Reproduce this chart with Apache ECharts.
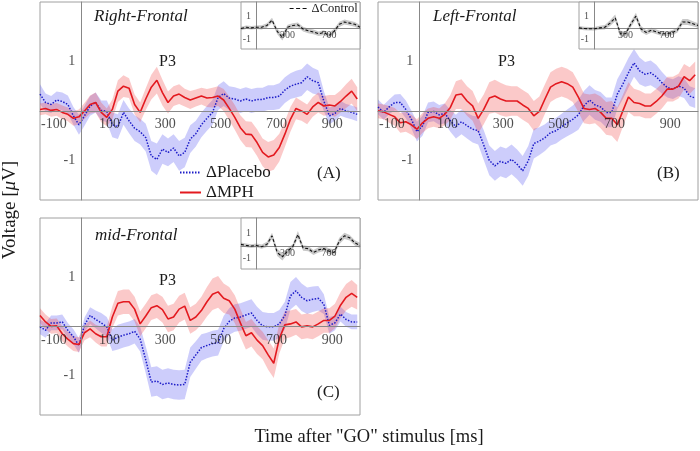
<!DOCTYPE html>
<html>
<head>
<meta charset="utf-8">
<script src="https://cdn.jsdelivr.net/npm/echarts@6/dist/echarts.min.js"></script>
<style>html,body{margin:0;padding:0;background:#fff}#c{width:700px;height:451px}</style>
</head>
<body>
<div id="c"></div>
<script>
// ---- time grids (ms) ----
const times = [-150,-130,-110,-90,-70,-50,-30,-10,10,30,50,70,90,110,130,150,170,190,210,230,250,270,290,310,330,350,370,390,410,430,450,470,490,510,530,550,570,590,610,630,650,670,690,710,730,750,770,790,810,830,850,870,890,910,930,950,970,990];
const insetTimes = [-150,-100,-50,0,50,100,150,200,250,300,350,400,450,500,550,600,650,700,750,800,850,900,950,1000];
const xTickLabels = [-100,100,300,500,700,900];
const insetXTickLabels = [300,700];
const yTickLabels = [-1,1];

// ---- Panel A: Right-Frontal ----
const mphA = [0.03,0.05,0.01,0.03,-0.03,-0.07,-0.15,-0.12,0.0,0.13,0.17,-0.03,-0.13,0.03,0.4,0.5,0.46,0.13,-0.03,0.24,0.48,0.62,0.37,0.17,0.3,0.34,0.27,0.22,0.26,0.3,0.26,0.27,0.3,0.22,0.05,-0.13,-0.34,-0.47,-0.48,-0.64,-0.84,-0.93,-0.89,-0.74,-0.47,-0.17,0.05,0.0,-0.07,0.08,0.17,0.1,0.12,0.1,0.19,0.3,0.4,0.24];
const plaA = [0.34,0.17,0.13,0.22,0.19,0.13,-0.1,-0.28,-0.1,0.1,0.17,0.01,-0.01,-0.28,-0.32,-0.03,-0.2,-0.35,-0.42,-0.54,-0.91,-0.98,-0.77,-0.84,-0.75,-0.91,-0.84,-0.57,-0.46,-0.28,-0.15,-0.03,0.27,0.35,0.26,0.24,0.2,0.24,0.2,0.23,0.23,0.27,0.27,0.3,0.42,0.5,0.54,0.57,0.69,0.61,0.57,0.2,-0.1,-0.05,0.05,0.0,-0.03,-0.07];
const seMphA = [0.12,0.12,0.13,0.13,0.14,0.14,0.15,0.15,0.16,0.18,0.2,0.2,0.18,0.2,0.22,0.22,0.2,0.2,0.2,0.22,0.25,0.27,0.26,0.22,0.2,0.2,0.18,0.18,0.17,0.17,0.18,0.2,0.2,0.22,0.24,0.25,0.25,0.26,0.26,0.27,0.28,0.3,0.3,0.28,0.26,0.25,0.22,0.2,0.2,0.2,0.2,0.2,0.2,0.22,0.22,0.24,0.25,0.24];
const sePlaA = [0.2,0.18,0.17,0.17,0.18,0.18,0.18,0.2,0.2,0.2,0.2,0.2,0.22,0.25,0.25,0.25,0.25,0.26,0.26,0.28,0.3,0.32,0.3,0.28,0.28,0.3,0.3,0.28,0.26,0.25,0.25,0.25,0.25,0.25,0.24,0.24,0.24,0.24,0.24,0.24,0.24,0.25,0.25,0.26,0.26,0.26,0.27,0.27,0.27,0.26,0.25,0.2,0.17,0.15,0.15,0.14,0.14,0.14];
const ctlA = [-0.05,0.05,0.0,0.05,0.05,0.2,0.65,-0.3,-0.8,0.05,0.2,0.25,-0.1,-0.25,-0.35,-0.5,-0.4,-0.65,-0.3,0.3,0.5,0.4,0.3,0.05];
const seCtlA = [0.15,0.15,0.15,0.15,0.18,0.2,0.22,0.25,0.28,0.22,0.2,0.2,0.2,0.2,0.2,0.2,0.2,0.22,0.22,0.22,0.22,0.2,0.2,0.2];

// ---- Panel B: Left-Frontal ----
const mphB = [0.0,-0.02,-0.07,-0.12,-0.24,-0.22,-0.28,-0.37,-0.24,-0.15,-0.12,-0.15,-0.07,0.07,0.32,0.34,0.2,0.1,-0.15,0.03,0.26,0.3,0.24,0.2,0.2,0.2,0.12,0.05,-0.1,-0.01,0.24,0.48,0.55,0.59,0.55,0.48,0.28,0.05,0.03,0.05,-0.03,-0.15,-0.15,-0.28,0.0,0.28,0.17,0.15,0.1,0.1,0.19,0.3,0.44,0.44,0.5,0.69,0.61,0.73];
const plaB = [0.08,-0.03,0.08,0.17,0.17,0.03,-0.17,-0.42,-0.3,-0.03,-0.01,-0.08,-0.05,-0.2,-0.32,-0.22,-0.3,-0.37,-0.4,-0.69,-1.0,-1.11,-1.02,-1.06,-0.98,-1.08,-1.21,-1.01,-0.66,-0.61,-0.54,-0.44,-0.4,-0.32,-0.24,-0.17,-0.08,0.1,0.22,0.12,0.08,-0.03,-0.03,0.34,0.54,0.77,0.97,0.81,0.74,0.77,0.69,0.57,0.47,0.44,0.5,0.46,0.3,0.26];
const seMphB = [0.15,0.15,0.17,0.18,0.2,0.2,0.2,0.2,0.2,0.2,0.2,0.2,0.22,0.25,0.28,0.3,0.3,0.3,0.3,0.3,0.32,0.33,0.33,0.32,0.3,0.3,0.3,0.3,0.3,0.3,0.3,0.3,0.3,0.3,0.3,0.3,0.3,0.3,0.3,0.3,0.32,0.33,0.35,0.35,0.32,0.3,0.28,0.26,0.25,0.25,0.25,0.25,0.25,0.25,0.25,0.26,0.27,0.27];
const sePlaB = [0.15,0.15,0.15,0.16,0.17,0.18,0.18,0.2,0.2,0.2,0.2,0.2,0.2,0.22,0.24,0.25,0.26,0.27,0.28,0.3,0.3,0.3,0.3,0.3,0.3,0.3,0.3,0.3,0.3,0.28,0.27,0.26,0.26,0.26,0.27,0.28,0.3,0.3,0.3,0.3,0.3,0.3,0.3,0.3,0.3,0.3,0.28,0.27,0.25,0.25,0.24,0.22,0.2,0.2,0.2,0.2,0.2,0.2];
const ctlB = [0.0,-0.05,-0.08,-0.08,0.0,0.05,0.4,0.85,-0.5,-0.5,0.3,1.0,-0.1,-0.4,-0.2,-0.35,-0.5,-0.5,-0.4,-0.2,0.5,0.5,0.35,0.2];
const seCtlB = [0.15,0.15,0.15,0.15,0.17,0.2,0.25,0.28,0.25,0.22,0.25,0.28,0.25,0.2,0.2,0.2,0.2,0.2,0.2,0.22,0.25,0.25,0.22,0.2];

// ---- Panel C: mid-Frontal ----
const mphC = [0.22,0.09,0.0,0.01,-0.15,-0.26,-0.35,-0.37,-0.13,-0.05,-0.15,-0.21,-0.21,0.19,0.47,0.5,0.5,0.35,0.05,0.21,0.38,0.42,0.34,0.15,0.19,0.35,0.41,0.12,0.19,0.32,0.5,0.65,0.7,0.57,0.52,0.35,0.07,-0.19,-0.13,-0.28,-0.39,-0.58,-0.75,-0.25,0.03,0.05,0.09,-0.01,0.01,-0.01,0.05,0.12,0.12,0.21,0.43,0.59,0.67,0.59];
const plaC = [-0.01,-0.08,0.07,0.07,0.09,-0.08,-0.21,-0.39,0.03,0.22,0.14,0.07,-0.01,-0.28,-0.22,-0.18,-0.15,-0.1,-0.26,-0.68,-1.13,-1.11,-1.18,-1.15,-1.18,-1.19,-1.18,-0.73,-0.58,-0.43,-0.39,-0.35,-0.33,-0.05,0.1,0.17,0.19,0.23,0.27,0.12,0.01,-0.01,-0.01,0.05,0.22,0.62,0.72,0.59,0.52,0.55,0.57,0.45,0.02,0.07,0.25,0.14,0.09,0.09];
const seMphC = [0.15,0.15,0.15,0.15,0.15,0.15,0.15,0.15,0.15,0.17,0.18,0.2,0.2,0.22,0.25,0.25,0.25,0.25,0.25,0.25,0.25,0.25,0.26,0.27,0.27,0.27,0.27,0.27,0.27,0.28,0.3,0.32,0.32,0.3,0.28,0.28,0.28,0.28,0.28,0.28,0.28,0.3,0.3,0.3,0.28,0.27,0.26,0.25,0.25,0.25,0.25,0.25,0.25,0.25,0.26,0.27,0.27,0.25];
const sePlaC = [0.15,0.15,0.15,0.15,0.15,0.15,0.15,0.15,0.15,0.17,0.18,0.2,0.2,0.22,0.25,0.25,0.25,0.25,0.25,0.27,0.3,0.3,0.3,0.3,0.3,0.3,0.3,0.3,0.28,0.27,0.26,0.26,0.26,0.26,0.27,0.28,0.28,0.28,0.28,0.28,0.28,0.28,0.28,0.28,0.28,0.28,0.28,0.28,0.27,0.26,0.25,0.2,0.17,0.15,0.15,0.15,0.15,0.15];
const ctlC = [0.13,0.05,0.0,0.05,-0.05,0.13,0.8,-0.5,-0.85,-0.4,-0.05,0.9,-0.15,-0.2,-0.5,-0.3,-0.2,-0.4,-0.5,0.4,0.8,0.65,0.25,0.05];
const seCtlC = [0.15,0.15,0.15,0.15,0.17,0.2,0.25,0.28,0.28,0.22,0.22,0.28,0.22,0.2,0.2,0.2,0.2,0.22,0.22,0.25,0.25,0.22,0.2,0.2];

const SERIF = 'Liberation Serif';
const RED = '#e3191f', BLUE = '#1c1cc8';
const RED_BAND = 'rgba(240,60,60,0.28)', BLUE_BAND = 'rgba(60,60,240,0.26)', GREY_BAND = 'rgba(120,120,120,0.40)';

const panels = [
  {mph: mphA, pla: plaA, seM: seMphA, seP: sePlaA, ctl: ctlA, seC: seCtlA},
  {mph: mphB, pla: plaB, seM: seMphB, seP: sePlaB, ctl: ctlB, seC: seCtlB},
  {mph: mphC, pla: plaC, seM: seMphC, seP: sePlaC, ctl: ctlC, seC: seCtlC}
];

const mainGrids = [
  {left: 40, top: 2, width: 320, height: 198},
  {left: 378, top: 2, width: 320, height: 198},
  {left: 40, top: 218, width: 320, height: 197}
];
const insetGrids = [
  {left: 241, top: 2, width: 119, height: 47},
  {left: 579, top: 2, width: 119, height: 47},
  {left: 241, top: 218, width: 119, height: 51}
];

const grid = [], xAxis = [], yAxis = [], series = [];

mainGrids.forEach((g) => {
  grid.push(Object.assign({show: true, borderColor: '#a0a0a0', borderWidth: 1, backgroundColor: 'transparent', z: 0}, g));
});
insetGrids.forEach((g) => {
  grid.push(Object.assign({show: true, borderColor: '#a0a0a0', borderWidth: 1, backgroundColor: '#ffffff', z: 5}, g));
});

function addAxes(gi, inset) {
  xAxis.push({
    gridIndex: gi, type: 'value', min: -150, max: 1000, interval: 50, z: inset ? 7 : 1,
    axisLine: {onZero: true, lineStyle: {color: '#888', width: 1}},
    axisTick: {show: false}, splitLine: {show: false}, axisLabel: {show: false}
  });
  yAxis.push({
    gridIndex: gi, type: 'value', min: -1.8, max: 2.2, interval: 0.2, z: inset ? 7 : 1,
    axisLine: {onZero: true, lineStyle: {color: '#888', width: 1}},
    axisTick: {show: false}, splitLine: {show: false}, axisLabel: {show: false}
  });
  // zero reference lines and tick labels drawn through the axes' own scales
  series.push({
    type: 'line', xAxisIndex: gi, yAxisIndex: gi, data: [], silent: true, z: inset ? 7 : 1,
    markLine: {
      silent: true, symbol: 'none', animation: false, label: {show: false},
      lineStyle: {color: '#888', width: 1, type: 'solid'},
      data: [{xAxis: 0}, {yAxis: 0}]
    }
  });
  const fs = inset ? 10 : 14;
  series.push({
    type: 'scatter', xAxisIndex: gi, yAxisIndex: gi, silent: true, z: inset ? 9 : 4,
    symbolSize: 1, itemStyle: {color: 'rgba(0,0,0,0)'},
    data: (inset ? insetXTickLabels : xTickLabels).map(v => [v, 0]),
    label: {show: true, position: 'bottom', distance: inset ? 2 : 6, formatter: p => String(p.value[0]),
      fontFamily: SERIF, fontSize: fs, color: '#222'}
  });
  series.push({
    type: 'scatter', xAxisIndex: gi, yAxisIndex: gi, silent: true, z: inset ? 9 : 4,
    symbolSize: 1, itemStyle: {color: 'rgba(0,0,0,0)'},
    data: yTickLabels.map(v => [0, v]),
    label: {show: true, position: 'left', distance: inset ? 5 : 6, formatter: p => String(p.value[1]),
      fontFamily: SERIF, fontSize: fs, color: '#222'}
  });
}

function bandSeries(gi, tArr, vals, se, color, z) {
  const rows = tArr.map((t, i) => [t, vals[i] - se[i], vals[i] + se[i]]);
  series.push({
    type: 'custom', xAxisIndex: gi, yAxisIndex: gi, z: z, silent: true,
    data: rows, encode: {x: 0, y: [1, 2]},
    renderItem: (params, api) => {
      if (params.dataIndex !== 0) return null;
      const pts = [];
      for (let i = 0; i < rows.length; i++) pts.push(api.coord([rows[i][0], rows[i][2]]));
      for (let i = rows.length - 1; i >= 0; i--) pts.push(api.coord([rows[i][0], rows[i][1]]));
      return {type: 'polygon', shape: {points: pts}, style: {fill: color}};
    }
  });
}

function lineSeries(gi, tArr, vals, name, style, z) {
  series.push({
    type: 'line', name: name, xAxisIndex: gi, yAxisIndex: gi,
    data: tArr.map((t, i) => [t, vals[i]]),
    symbol: 'none', silent: true, z: z, lineStyle: style,
    itemStyle: {color: style.color}, emphasis: {disabled: true}
  });
}

panels.forEach((p, k) => addAxes(k, false));
panels.forEach((p, k) => addAxes(3 + k, true));

panels.forEach((p, k) => {
  bandSeries(k, times, p.pla, p.seP, BLUE_BAND, 2);
  bandSeries(k, times, p.mph, p.seM, RED_BAND, 2);
  lineSeries(k, times, p.pla, 'ΔPlacebo', {color: BLUE, width: 1.5, type: [1.5, 1.5]}, 3);
  lineSeries(k, times, p.mph, 'ΔMPH', {color: RED, width: 1.6, type: 'solid'}, 3);
  const gi = 3 + k;
  bandSeries(gi, insetTimes, p.ctl, p.seC, GREY_BAND, 8);
  lineSeries(gi, insetTimes, p.ctl, 'ΔControl', {color: '#111', width: 1.1, type: [3, 2]}, 9);
});

function txt(x, y, text, size, extra) {
  return {
    type: 'text', x: x, y: y, z: 20,
    style: Object.assign({text: text, fontFamily: SERIF, fontSize: size, fill: '#1a1a1a', textVerticalAlign: 'middle'}, extra || {})
  };
}

const graphic = [
  txt(94, 17, 'Right-Frontal', 17, {fontStyle: 'italic'}),
  txt(433, 17, 'Left-Frontal', 17, {fontStyle: 'italic'}),
  txt(95, 236, 'mid-Frontal', 17, {fontStyle: 'italic'}),
  txt(159, 62, 'P3', 16),
  txt(498, 62, 'P3', 16),
  txt(159, 281, 'P3', 16),
  txt(317, 174, '(A)', 17),
  txt(657, 174, '(B)', 17),
  txt(317, 393, '(C)', 17),
  txt(369, 437, 'Time after "GO" stimulus [ms]', 18.5, {textAlign: 'center'}),
  {
    type: 'text', x: 10, y: 210, rotation: Math.PI / 2, z: 20,
    style: {
      text: 'Voltage [{i|μ}V]', fontFamily: SERIF, fontSize: 19, fill: '#1a1a1a',
      textAlign: 'center', textVerticalAlign: 'middle',
      rich: {i: {fontStyle: 'italic', fontFamily: SERIF, fontSize: 19, fill: '#1a1a1a'}}
    }
  }
];

const option = {
  animation: false,
  backgroundColor: '#ffffff',
  grid: grid, xAxis: xAxis, yAxis: yAxis, series: series,
  legend: [
    {
      data: ['ΔPlacebo', 'ΔMPH'], orient: 'vertical', left: 179, top: 164, padding: 0,
      itemWidth: 21, itemHeight: 14, itemGap: 3, selectedMode: false, z: 20,
      itemStyle: {opacity: 0},
      textStyle: {fontFamily: SERIF, fontSize: 17, color: '#1a1a1a'}
    },
    {
      data: ['ΔControl'], orient: 'horizontal', left: 289, top: 2, padding: 0,
      itemWidth: 17, itemHeight: 11, selectedMode: false, z: 20,
      itemStyle: {opacity: 0}, lineStyle: {type: [4, 2.5], width: 1.2},
      textStyle: {fontFamily: SERIF, fontSize: 12.5, color: '#1a1a1a'}
    }
  ],
  graphic: graphic
};

const chart = echarts.init(document.getElementById('c'), null, {renderer: 'canvas'});
chart.setOption(option);
</script>
</body>
</html>
